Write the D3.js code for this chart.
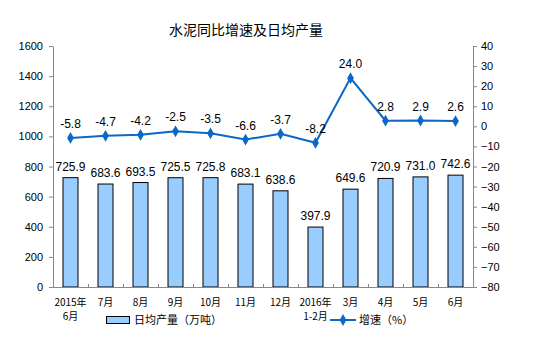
<!DOCTYPE html>
<html>
<head>
<meta charset="utf-8">
<script src="https://cdn.jsdelivr.net/npm/d3@7"></script>
<style>
  body { margin: 0; background: #fff; }
  text { font-family: "Liberation Sans", Arial, sans-serif; }
  .cjk { font-family: "Noto Sans CJK SC", sans-serif; }
</style>
</head>
<body>
<svg id="chart" width="554" height="352"></svg>
<script>
const categories = ["2015年\n6月", "7月", "8月", "9月", "10月", "11月", "12月", "2016年\n1-2月", "3月", "4月", "5月", "6月"];
const output = [725.9, 683.6, 693.5, 725.5, 725.8, 683.1, 638.6, 397.9, 649.6, 720.9, 731.0, 742.6];
const growth = [-5.8, -4.7, -4.2, -2.5, -3.5, -6.6, -3.7, -8.2, 24.0, 2.8, 2.9, 2.6];
const leftTicks = [0, 200, 400, 600, 800, 1000, 1200, 1400, 1600];
const rightTicks = [-80, -70, -60, -50, -40, -30, -20, -10, 0, 10, 20, 30, 40];

const svg = d3.select("#chart");
const plot = { left: 53, right: 473, top: 46, bottom: 287 };
const lineColor = "#0b67c8";

const x = d3.scaleBand().domain(categories).range([plot.left, plot.right]);
const yL = d3.scaleLinear().domain([0, 1600]).range([plot.bottom, plot.top]);
const yR = d3.scaleLinear().domain([-80, 40]).range([plot.bottom, plot.top]);
const cx = (i) => x(categories[i]) + x.bandwidth() / 2;

// title
svg.append("text")
  .attr("class", "cjk")
  .attr("x", 246).attr("y", 35)
  .attr("text-anchor", "middle")
  .attr("font-size", 14)
  .text("水泥同比增速及日均产量");

// left axis
const gL = svg.append("g")
  .attr("transform", `translate(${plot.left},0)`)
  .call(d3.axisLeft(yL).tickValues(leftTicks).tickFormat(d3.format("d")).tickSize(4).tickSizeOuter(0));
gL.selectAll("text").attr("font-size", 11).attr("fill", "#000")
  .style("font-family", "'Liberation Sans', Arial, sans-serif").attr("x", -10);

// right axis
const gR = svg.append("g")
  .attr("transform", `translate(${plot.right},0)`)
  .call(d3.axisRight(yR).tickValues(rightTicks).tickSize(4).tickSizeOuter(0));
gR.selectAll("text").attr("font-size", 11).attr("fill", "#000")
  .style("font-family", "'Liberation Sans', Arial, sans-serif").attr("x", 8);

[gL, gR].forEach((g) => {
  g.select(".domain").attr("stroke", "#888");
  g.selectAll(".tick line").attr("stroke", "#888");
});

// bars
const barW = 15;
svg.append("g").selectAll("rect")
  .data(output)
  .join("rect")
  .attr("x", (d, i) => cx(i) - barW / 2)
  .attr("y", (d) => yL(d))
  .attr("width", barW)
  .attr("height", (d) => yL(0) - yL(d))
  .attr("fill", "#99ccff")
  .attr("stroke", "#000")
  .attr("stroke-width", 1);

// bar labels
svg.append("g").selectAll("text")
  .data(output)
  .join("text")
  .attr("x", (d, i) => cx(i))
  .attr("y", (d) => yL(d) - 7)
  .attr("text-anchor", "middle")
  .attr("font-size", 12)
  .text((d) => d.toFixed(1));

// x axis
svg.append("line")
  .attr("x1", plot.left).attr("x2", plot.right)
  .attr("y1", plot.bottom + 0.5).attr("y2", plot.bottom + 0.5)
  .attr("stroke", "#888");
svg.append("g").selectAll("line")
  .data(categories.slice(1))
  .join("line")
  .attr("x1", (d) => Math.round(x(d)) + 0.5)
  .attr("x2", (d) => Math.round(x(d)) + 0.5)
  .attr("y1", plot.bottom - 3).attr("y2", plot.bottom)
  .attr("stroke", "#888");

// x labels, one text per line
const xLines = [];
categories.forEach((c, i) => {
  c.split("\n").forEach((p, j) => xLines.push({ i, j, p }));
});
svg.append("g").selectAll("text")
  .data(xLines)
  .join("text")
  .attr("class", "cjk")
  .attr("text-anchor", "middle")
  .attr("font-size", 10)
  .attr("x", (d) => cx(d.i))
  .attr("y", (d) => 306 + d.j * 14)
  .text((d) => d.p);

// growth line
const line = d3.line()
  .x((d, i) => cx(i))
  .y((d) => yR(d));
svg.append("path")
  .datum(growth)
  .attr("d", line)
  .attr("fill", "none")
  .attr("stroke", lineColor)
  .attr("stroke-width", 2);

const diamond = d3.symbol().type(d3.symbolDiamond).size(40);
svg.append("g").selectAll("path")
  .data(growth)
  .join("path")
  .attr("d", diamond)
  .attr("transform", (d, i) => `translate(${cx(i)},${yR(d)})`)
  .attr("fill", lineColor);

svg.append("g").selectAll("text")
  .data(growth)
  .join("text")
  .attr("x", (d, i) => cx(i))
  .attr("y", (d) => yR(d) - 10)
  .attr("text-anchor", "middle")
  .attr("font-size", 12)
  .text((d) => d.toFixed(1));

// legend
const lg = svg.append("g");
lg.append("rect")
  .attr("x", 106.5).attr("y", 316.5).attr("width", 23).attr("height", 7)
  .attr("fill", "#99ccff").attr("stroke", "#000");
lg.append("text").attr("class", "cjk")
  .attr("x", 134).attr("y", 324).attr("font-size", 11)
  .text("日均产量（万吨）");
lg.append("line")
  .attr("x1", 330).attr("x2", 356).attr("y1", 320).attr("y2", 320)
  .attr("stroke", lineColor).attr("stroke-width", 2);
lg.append("path").attr("d", diamond)
  .attr("transform", "translate(343,320)").attr("fill", lineColor);
lg.append("text").attr("class", "cjk")
  .attr("x", 359).attr("y", 324).attr("font-size", 11)
  .text("增速（%）");
</script>
</body>
</html>
